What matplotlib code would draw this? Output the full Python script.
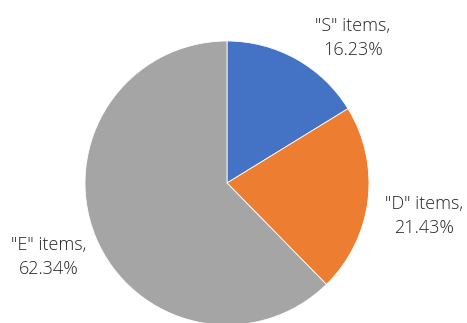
import matplotlib.pyplot as plt

# Share of items by type
labels = ['"S" items', '"D" items', '"E" items']
shares = [16.23, 21.43, 62.34]
colors = ['#4472C4', '#ED7D31', '#A5A5A5']

fig = plt.figure(figsize=(4.67, 3.23), dpi=100)
# pie centred at (227, 183) px, radius ~142 px
ax = fig.add_axes([85 / 467, -2 / 323, 284 / 467, 284 / 323])
ax.pie(shares, colors=colors, startangle=90, counterclock=False, radius=1,
       wedgeprops=dict(edgecolor='white', linewidth=0.6))
ax.set_xlim(-1, 1)
ax.set_ylim(-1, 1)
ax.set_aspect('equal')
ax.axis('off')

# data labels, placed in figure pixel coordinates
label_pos = [(353, 38), (424, 216), (49, 257)]
for lab, val, (x, y) in zip(labels, shares, label_pos):
    fig.text(x / 467, 1 - y / 323, f'{lab},\n{val:.2f}%', ha='center', va='center',
             fontsize=13, family='Open Sans', fontweight='light', color='#262626',
             linespacing=1.45)

plt.savefig('out.png', dpi=100)
